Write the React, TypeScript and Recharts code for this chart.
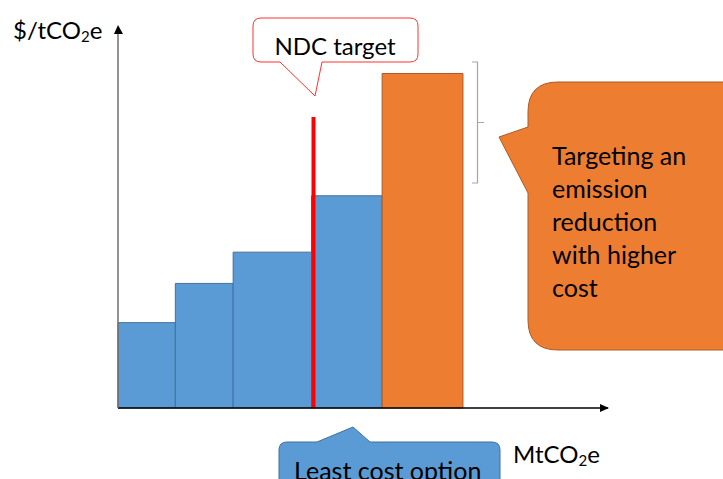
import { ComposedChart, XAxis, YAxis, ReferenceArea, ReferenceLine, Line } from 'recharts'

// abatement options, left to right along the curve
const options = ['Option 1', 'Option 2', 'Option 3', 'Option 4', 'Option 5']
// width of each block = abatement potential (MtCO2e)
const abatement = [11.7, 11.8, 16.0, 14.4, 16.5]
// height of each block = marginal cost ($/tCO2e)
const unitCost = [22.4, 32.7, 40.9, 55.7, 87.8]
const costGroup = ['least', 'least', 'least', 'least', 'higher']
// NDC target on the abatement axis
const ndcTarget = 39.9
const ndcLineTop = 76.4

const W = 723
const H = 479
const FONT = 'Lato, "Open Sans", sans-serif'

const colors: Record<string, { fill: string; stroke: string }> = {
  least: { fill: '#5b9bd5', stroke: '#41719c' },
  higher: { fill: '#ed7d31', stroke: '#ae5a21' },
}

const blocks = options.map((name, i) => {
  const start = abatement.slice(0, i).reduce((s, v) => s + v, 0)
  return { name, x1: start, x2: start + abatement[i], cost: unitCost[i], group: costGroup[i] }
})

const data = blocks.map((b) => ({ x: b.x1, y: b.cost }))

const Overlay = () => (
  <svg
    width={W}
    height={H}
    style={{ position: 'absolute', left: 0, top: 0, pointerEvents: 'none' }}
    fontFamily={FONT}
  >
    {/* axis arrowheads */}
    <polygon points='118,25 114,34 123,34' fill='#000' />
    <polygon points='609,408 600,404 600,412' fill='#000' />

    {/* axis titles */}
    <text x={13} y={39} fontSize={24} fill='#000'>
      $/tCO<tspan fontSize={15} dy={3}>2</tspan>
      <tspan dy={-3}>e</tspan>
    </text>
    <text x={513} y={463} fontSize={24} fill='#000'>
      MtCO<tspan fontSize={15} dy={3}>2</tspan>
      <tspan dy={-3}>e</tspan>
    </text>

    {/* NDC target callout */}
    <path
      d='M 261 18 H 410 Q 418 18 418 26 V 54 Q 418 62 410 62 H 322 L 315 96 L 280 62 H 261 Q 253 62 253 54 V 26 Q 253 18 261 18 Z'
      fill='#fff'
      stroke='#ff3030'
      strokeWidth={1}
    />
    <text x={335} y={55} fontSize={24} textAnchor='middle' fill='#000'>
      NDC target
    </text>

    {/* bracket beside the higher cost block */}
    <path d='M 472 62 H 477.5 V 183 H 472 M 477.5 122.5 H 484' fill='none' stroke='#a6a6a6' strokeWidth={1.2} />

    {/* higher cost callout */}
    <path
      d='M 558 82 H 724 V 350 H 558 Q 528 350 528 320 V 193 L 499 137 L 528 127 V 112 Q 528 82 558 82 Z'
      fill='#ed7d31'
      stroke='#ae5a21'
      strokeWidth={1}
    />
    {['Targeting an', 'emission', 'reduction', 'with higher', 'cost'].map((t, i) => (
      <text key={t} x={552} y={165 + i * 33} fontSize={25} fill='#000'>
        {t}
      </text>
    ))}

    {/* least cost callout */}
    <path
      d='M 279 450 Q 279 442 287 442 H 317 L 353 427 L 370 442 H 492 Q 500 442 500 450 V 500 H 279 Z'
      fill='#5b9bd5'
      stroke='#41719c'
      strokeWidth={1}
    />
    <text x={294} y={480} fontSize={25} fill='#000'>
      Least cost option
    </text>
  </svg>
)

export default function App() {
  return (
    <div style={{ position: 'absolute', left: 0, top: 0, width: W, height: H, overflow: 'hidden', background: '#fff' }}>
      <ComposedChart
        width={W}
        height={H}
        data={data}
        margin={{ top: 27, right: 115, bottom: 70, left: 117 }}
      >
        <XAxis
          type='number'
          dataKey='x'
          domain={[0, 100]}
          allowDataOverflow
          tick={false}
          tickLine={false}
          height={1}
          axisLine={{ stroke: '#000', strokeWidth: 1.3 }}
        />
        <YAxis
          type='number'
          domain={[0, 100]}
          allowDataOverflow
          tick={false}
          tickLine={false}
          width={1}
          axisLine={{ stroke: '#6f6f6f', strokeWidth: 1.5 }}
        />
        <Line dataKey='y' stroke='none' dot={false} activeDot={false} legendType='none' isAnimationActive={false} />
        {blocks.map((b) => (
          <ReferenceArea
            key={b.name}
            x1={b.x1}
            x2={b.x2}
            y1={0}
            y2={b.cost}
            fill={colors[b.group].fill}
            fillOpacity={1}
            stroke={colors[b.group].stroke}
            strokeWidth={1}
          />
        ))}
        <ReferenceLine
          segment={[
            { x: ndcTarget, y: 0 },
            { x: ndcTarget, y: ndcLineTop },
          ]}
          stroke='#ff0000'
          strokeWidth={4}
        />
      </ComposedChart>
      <Overlay />
    </div>
  )
}
